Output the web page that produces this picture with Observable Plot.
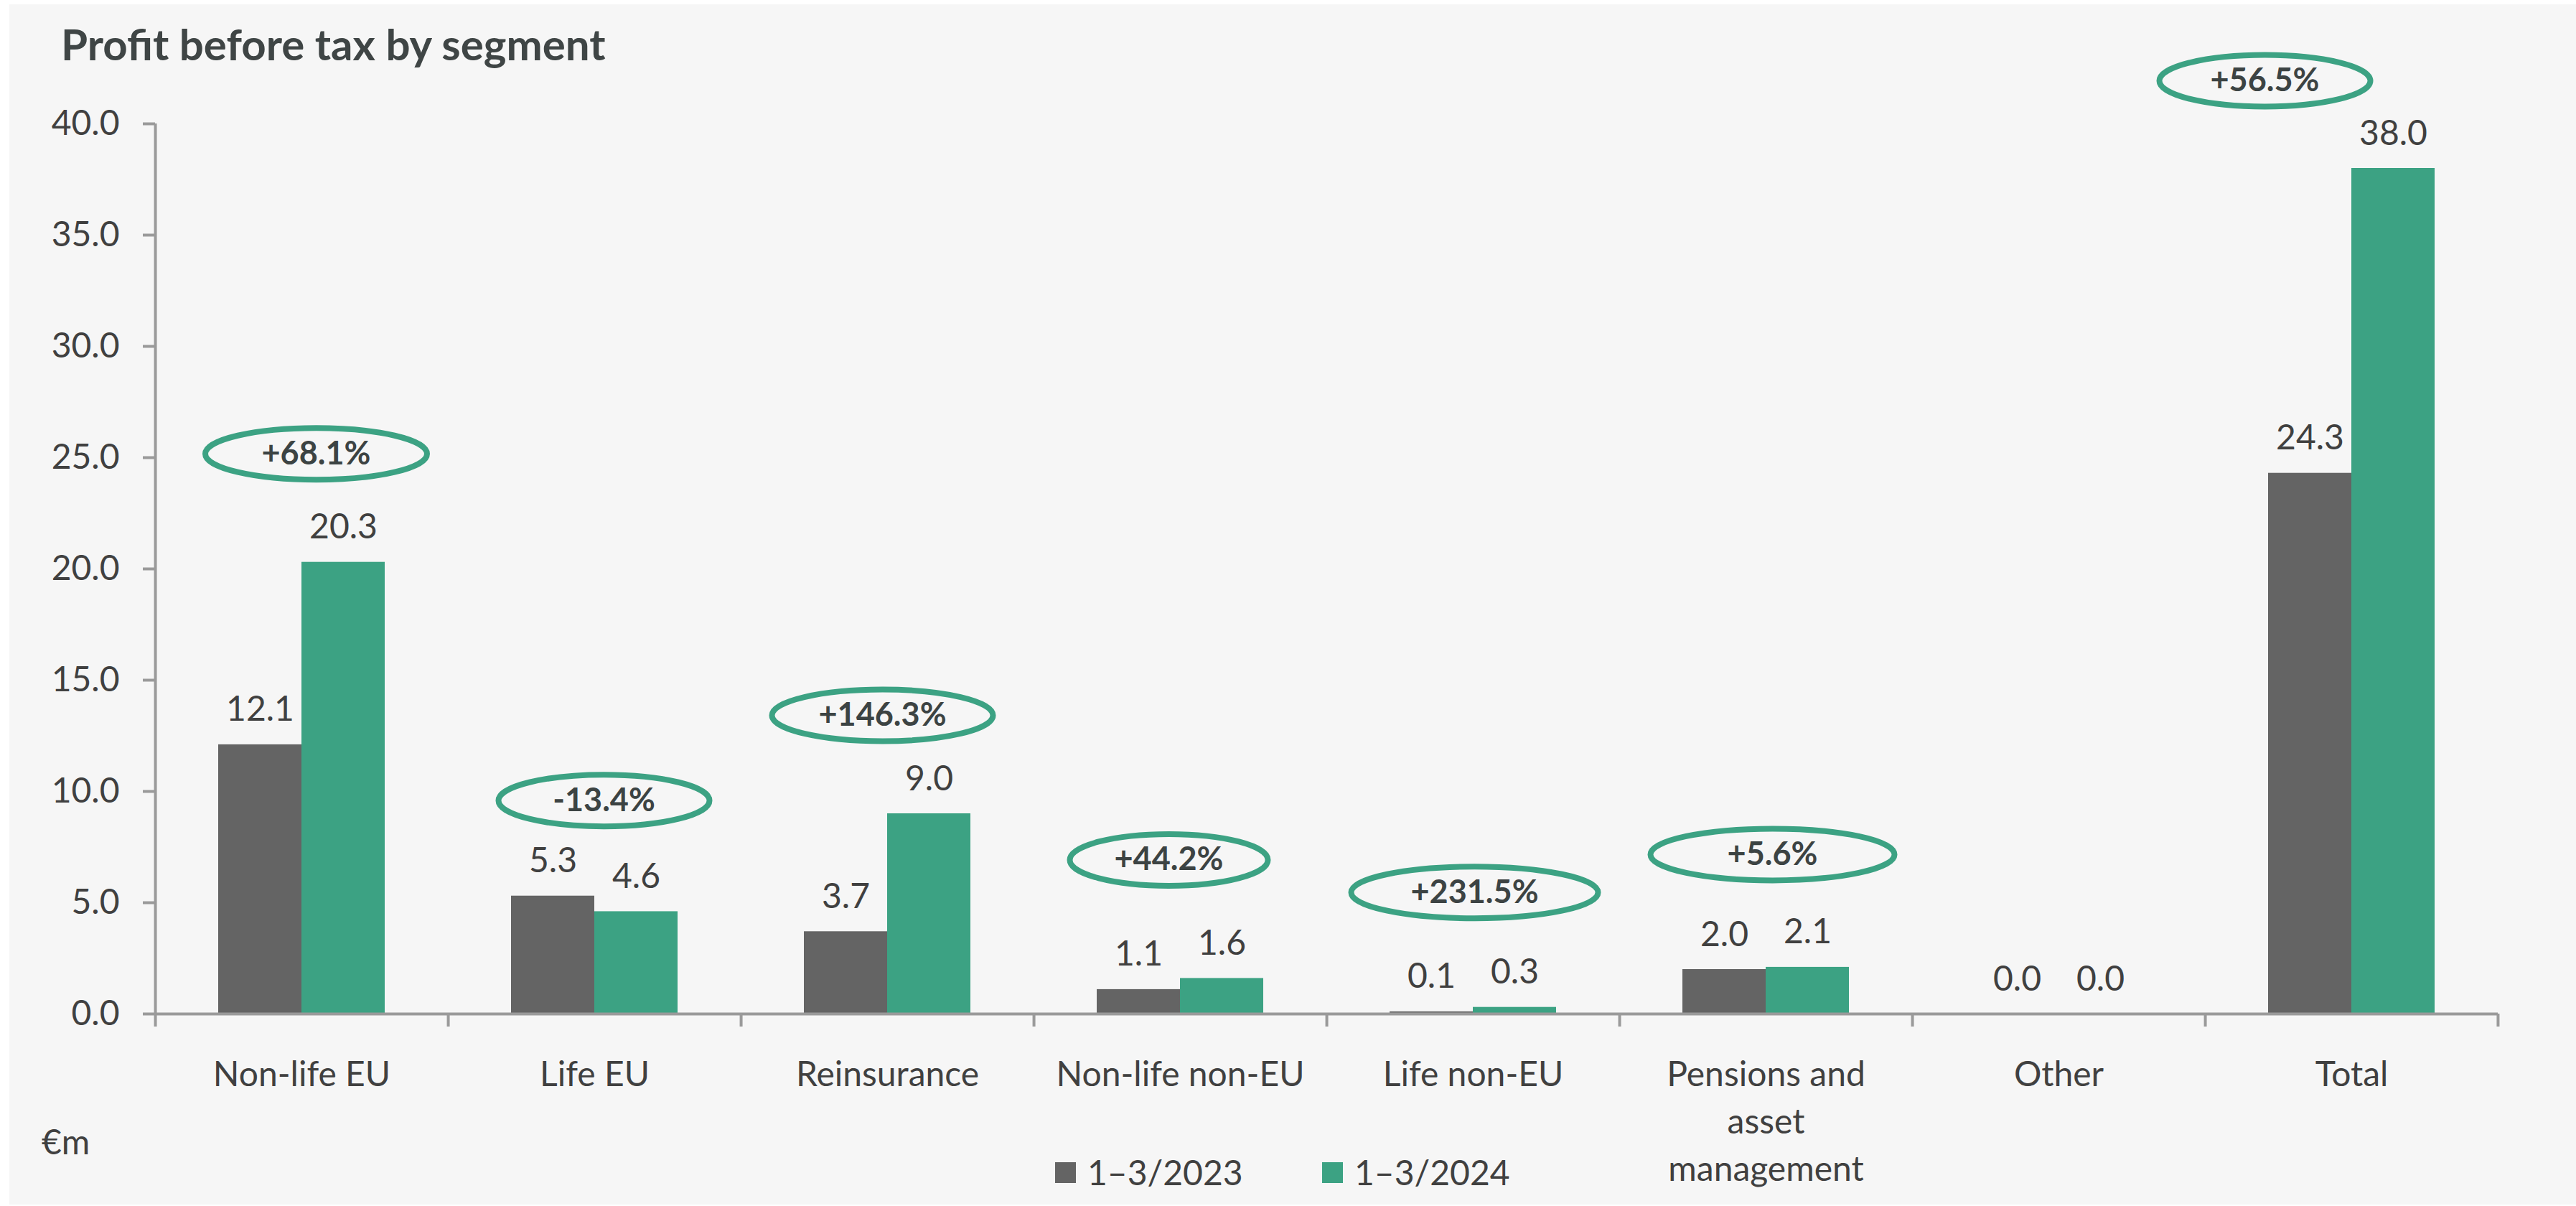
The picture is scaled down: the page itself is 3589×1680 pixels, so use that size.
<!DOCTYPE html>
<html>
<head>
<meta charset="utf-8">
<script src="https://cdn.jsdelivr.net/npm/d3@7"></script>
<script src="https://cdn.jsdelivr.net/npm/@observablehq/plot@0.6"></script>
<style>
  html, body { margin: 0; padding: 0; background: #ffffff; }
  #page { position: relative; width: 3589px; height: 1680px; overflow: hidden; font-family: Lato, "Open Sans", sans-serif; }
  #panel { position: absolute; left: 13px; top: 6px; right: 0; bottom: 2px; background: #f6f6f6; }
  #chart { position: absolute; left: 0; top: 0; }
  #title { position: absolute; left: 85px; top: 31px; font-size: 60px; line-height: 1; font-weight: 700; color: #3f4545; white-space: nowrap; }
  #unit { position: absolute; left: 58px; top: 1566px; font-size: 48px; line-height: 1; color: #404040; }
  .legend-item { position: absolute; top: 1609px; height: 48px; display: flex; align-items: center; font-size: 48px; line-height: 1; color: #404040; white-space: nowrap; }
  .legend-item .sw { width: 29px; height: 29px; margin-right: 16px; }
</style>
</head>
<body>
<div id="page">
  <div id="panel"></div>
  <div id="chart"></div>
  <div id="title"></div>
  <div id="unit"></div>
  <div id="legend"></div>
</div>
<script>
// ---------- data ----------
const title = "Profit before tax by segment";
const unitLabel = "€m";
const categories = ["Non-life EU", "Life EU", "Reinsurance", "Non-life non-EU", "Life non-EU", "Pensions and asset management", "Other", "Total"];
const series = ["1–3/2023", "1–3/2024"];
const values2023 = [12.1, 5.3, 3.7, 1.1, 0.1, 2.0, 0.0, 24.3];
const values2024 = [20.3, 4.6, 9.0, 1.6, 0.3, 2.1, 0.0, 38.0];
const changeLabels = ["+68.1%", "-13.4%", "+146.3%", "+44.2%", "+231.5%", "+5.6%", null, "+56.5%"];
const yTicks = [0, 5, 10, 15, 20, 25, 30, 35, 40];
const categoryLines = { "Pensions and asset management": "Pensions and\nasset\nmanagement" };

// ---------- style / layout ----------
const colors = ["#646464", "#3ca283"];
const textColor = "#404040";
const axisColor = "#9a9a9a";
const W = 3589, H = 1680;
const marginLeft = 212, marginRight = 106, marginTop = 172, marginBottom = 268;
const barWidth = 117;
const step = (W - marginLeft - marginRight) / categories.length;
const innerPad = (step / barWidth - 2) / 2;       // band paddingOuter inside each group
const edgeOffset = step / 2 - barWidth / 2;       // from first bar centre to group edge
// callout ellipse styling per category: [dx px, dy px, outer width px]
const calloutStyle = [[20, -151, 317], [13, -133, 302], [-7, -137, 316], [-16, -165, 284], [2, -160, 352], [9, -157, 348], null, [-121, -122, 302]];
const calloutHeight = 80, calloutStroke = 8;

// ---------- tables ----------
const rows = categories.flatMap((c, i) => [
  { category: c, series: series[0], value: values2023[i] },
  { category: c, series: series[1], value: values2024[i] }
]);
const callouts = categories.map((c, i) => ({
  category: c,
  label: changeLabels[i],
  top: Math.max(values2023[i], values2024[i]),
  style: calloutStyle[i]
})).filter(d => d.label);

function ellipseSymbol(outerW, outerH, sw) {
  const rx = (outerW - sw) / 2, ry = (outerH - sw) / 2, k = 0.5522847498;
  return {
    draw(ctx) {
      ctx.moveTo(rx, 0);
      ctx.bezierCurveTo(rx, ry * k, rx * k, ry, 0, ry);
      ctx.bezierCurveTo(-rx * k, ry, -rx, ry * k, -rx, 0);
      ctx.bezierCurveTo(-rx, -ry * k, -rx * k, -ry, 0, -ry);
      ctx.bezierCurveTo(rx * k, -ry, rx, -ry * k, rx, 0);
      ctx.closePath();
    }
  };
}

const calloutMarks = callouts.flatMap(d => [
  Plot.dot([d], {
    fx: "category", y: "top",
    dx: d.style[0], dy: d.style[1],
    symbol: ellipseSymbol(d.style[2], calloutHeight, calloutStroke),
    fill: "none", stroke: colors[1], strokeWidth: calloutStroke
  }),
  Plot.text([d], {
    fx: "category", y: "top", text: "label",
    dx: d.style[0], dy: d.style[1],
    fontSize: 45, fontWeight: 700, fill: "#3c4343"
  })
]);

const chart = Plot.plot({
  width: W, height: H,
  marginLeft, marginRight, marginTop, marginBottom,
  style: { background: "transparent", fontFamily: "Lato, 'Open Sans', sans-serif", overflow: "visible" },
  fx: { domain: categories, paddingInner: 0, paddingOuter: 0, axis: null, label: null },
  x: { domain: series, paddingInner: 0, paddingOuter: innerPad, axis: null, label: null },
  y: { domain: [0, 40], axis: null, label: null },
  color: { domain: series, range: colors },
  marks: [
    Plot.barY(rows, { fx: "category", x: "series", y: "value", fill: "series" }),
    Plot.ruleY([0], { stroke: axisColor, strokeWidth: 4 }),
    // y axis line
    Plot.ruleX([categories[0]], { fx: d => d, x: () => series[0], dx: -edgeOffset, y1: 0, y2: yTicks[yTicks.length - 1], stroke: axisColor, strokeWidth: 4 }),
    // category boundary ticks
    Plot.ruleX(categories, { fx: d => d, x: () => series[0], dx: -edgeOffset, y1: 0, y2: 0, insetBottom: -18, stroke: axisColor, strokeWidth: 4 }),
    Plot.ruleX([categories[categories.length - 1]], { fx: d => d, x: () => series[1], dx: edgeOffset, y1: 0, y2: 0, insetBottom: -18, stroke: axisColor, strokeWidth: 4 }),
    Plot.axisY({ ticks: yTicks, tickFormat: d => d.toFixed(1), tickSize: 17, tickPadding: 33, fontSize: 48, stroke: axisColor, strokeWidth: 4, fill: textColor, label: null }),
    Plot.text(rows, { fx: "category", x: "series", y: "value", text: d => d.value.toFixed(1), lineAnchor: "bottom", dy: -33, fontSize: 48, fill: textColor }),
    Plot.text(categories, { fx: d => d, text: d => categoryLines[d] ?? d, frameAnchor: "bottom", lineAnchor: "top", dy: 54, lineHeight: 1.375, fontSize: 48, fill: textColor }),
    ...calloutMarks
  ]
});
document.getElementById("chart").appendChild(chart);

document.getElementById("title").textContent = title;
document.getElementById("unit").textContent = unitLabel;
const legendLefts = [1470, 1842];
const legend = document.getElementById("legend");
series.forEach((s, i) => {
  const item = document.createElement("div");
  item.className = "legend-item";
  item.style.left = legendLefts[i] + "px";
  const sw = document.createElement("span");
  sw.className = "sw";
  sw.style.background = colors[i];
  const t = document.createElement("span");
  t.textContent = s;
  item.appendChild(sw); item.appendChild(t);
  legend.appendChild(item);
});
</script>
</body>
</html>
